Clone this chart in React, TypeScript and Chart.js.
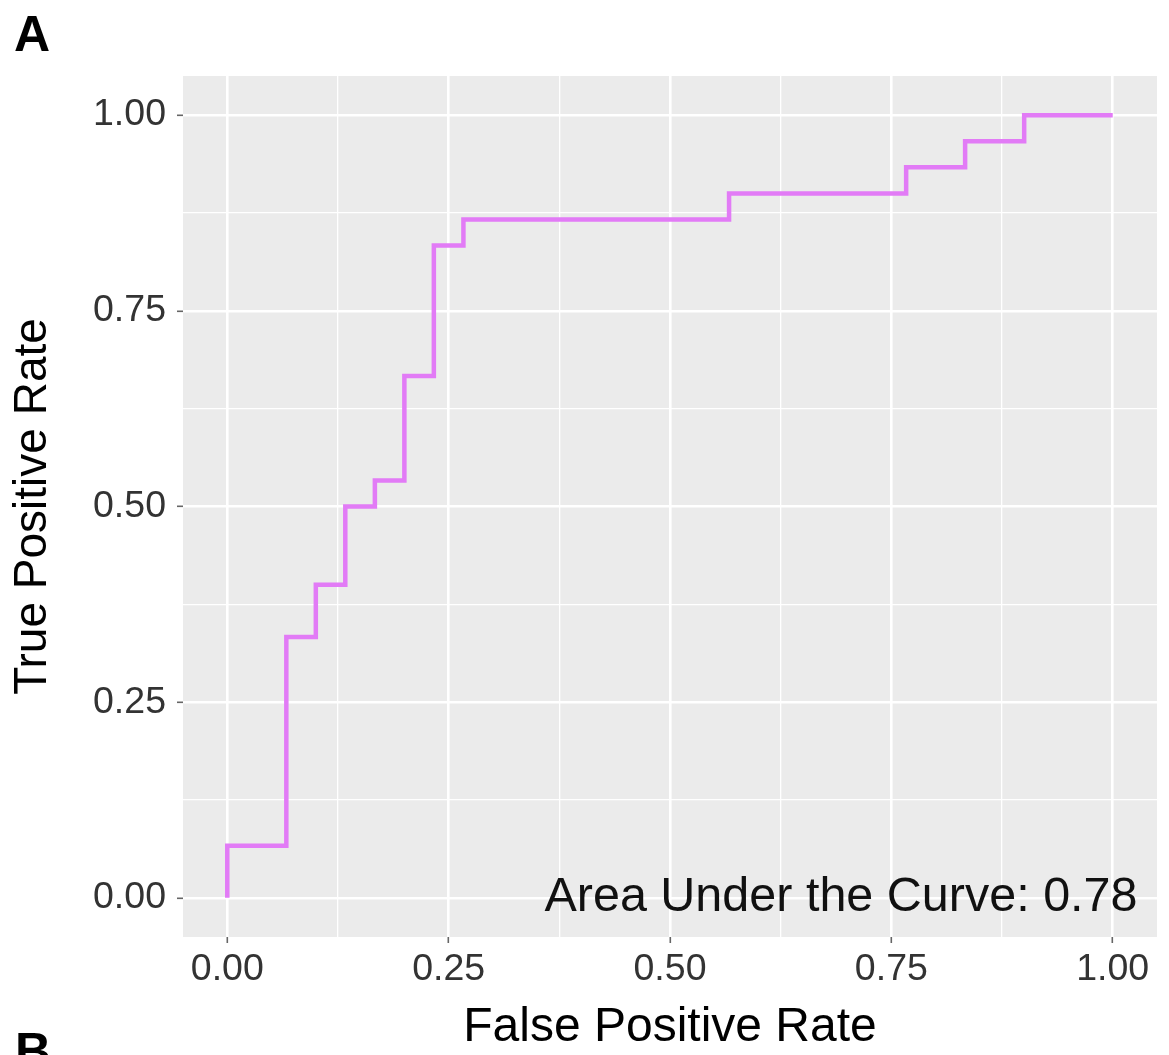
import React, { useEffect, useRef } from "react";
import { Chart, registerables } from "chart.js";

Chart.register(...registerables);

// ROC staircase corners (False Positive Rate, True Positive Rate)
const fpr = [0, 0, 0.0667, 0.0667, 0.1, 0.1, 0.1333, 0.1333, 0.1667, 0.1667, 0.2, 0.2, 0.2333, 0.2333, 0.2667, 0.2667, 0.5667, 0.5667, 0.7667, 0.7667, 0.8333, 0.8333, 0.9, 0.9, 1.0];
const tpr = [0, 0.0667, 0.0667, 0.3333, 0.3333, 0.4, 0.4, 0.5, 0.5, 0.5333, 0.5333, 0.6667, 0.6667, 0.8333, 0.8333, 0.8667, 0.8667, 0.9, 0.9, 0.9333, 0.9333, 0.9667, 0.9667, 1.0, 1.0];
const majorTicks = [0, 0.25, 0.5, 0.75, 1.0];
const gridValues = [0, 0.125, 0.25, 0.375, 0.5, 0.625, 0.75, 0.875, 1.0];
const aucValue = 0.78;
const xTitle = "False Positive Rate";
const yTitle = "True Positive Rate";
const panelLabels = ["A", "B"];

const FONT = "'Liberation Sans', Arial, Helvetica, sans-serif";
const isMajor = (v: number) => majorTicks.some((m) => Math.abs(m - v) < 1e-6);

const panelPlugin = {
  id: "panelDecor",
  beforeDraw(chart: any) {
    const { ctx, chartArea } = chart;
    ctx.save();
    ctx.fillStyle = "#EBEBEB";
    ctx.fillRect(chartArea.left, chartArea.top, chartArea.right - chartArea.left, chartArea.bottom - chartArea.top);
    ctx.restore();
  },
  afterDatasetsDraw(chart: any) {
    const { ctx, scales } = chart;
    ctx.save();
    ctx.fillStyle = "#111111";
    ctx.font = `48.5px ${FONT}`;
    ctx.textAlign = "right";
    ctx.textBaseline = "middle";
    ctx.fillText(`Area Under the Curve: ${aucValue.toFixed(2)}`, scales.x.getPixelForValue(1.028), scales.y.getPixelForValue(0));
    ctx.restore();
  },
  afterDraw(chart: any) {
    const { ctx } = chart;
    ctx.save();
    ctx.fillStyle = "#000000";
    ctx.font = `bold 50px ${FONT}`;
    ctx.textAlign = "left";
    ctx.textBaseline = "alphabetic";
    ctx.fillText(panelLabels[0], 14, 51);
    ctx.fillText(panelLabels[1], 15, 1068);
    ctx.restore();
  },
};

export default function App() {
  const canvasRef = useRef<HTMLCanvasElement | null>(null);

  useEffect(() => {
    if (!canvasRef.current) return;
    const points = fpr.map((x, i) => ({ x, y: tpr[i] }));
    const gridCommon = {
      color: "#FFFFFF",
      lineWidth: (c: any) => (c.tick && isMajor(c.tick.value) ? 2.6 : 1.3),
      drawTicks: true,
      tickLength: 6,
      tickColor: (c: any) => (c.tick && isMajor(c.tick.value) ? "#666666" : "rgba(0,0,0,0)"),
      tickWidth: 1.6,
    };
    const chart = new Chart(canvasRef.current, {
      type: "scatter",
      data: {
        datasets: [
          {
            data: points,
            showLine: true,
            borderColor: "#E27BF6",
            backgroundColor: "#E27BF6",
            borderWidth: 4.5,
            pointRadius: 0,
            borderJoinStyle: "miter",
            tension: 0,
          },
        ],
      },
      plugins: [panelPlugin],
      options: {
        animation: false,
        responsive: true,
        maintainAspectRatio: false,
        layout: { padding: { left: 0, right: 12, top: 76, bottom: 0 } },
        plugins: { legend: { display: false }, tooltip: { enabled: false } },
        scales: {
          x: {
            type: "linear",
            min: -0.05,
            max: 1.05,
            afterBuildTicks: (s: any) => {
              s.ticks = gridValues.map((v) => ({ value: v }));
            },
            afterFit: (s: any) => {
              s.height = 118;
            },
            border: { display: false },
            grid: gridCommon,
            ticks: {
              autoSkip: false,
              maxRotation: 0,
              padding: 4,
              color: "#333333",
              font: { family: FONT, size: 37.5 },
              callback: (v: any) => (isMajor(Number(v)) ? Number(v).toFixed(2) : ""),
            },
            title: {
              display: true,
              text: xTitle,
              color: "#000000",
              font: { family: FONT, size: 48, lineHeight: 1 },
              padding: { top: 0, bottom: 3 },
            },
          },
          y: {
            type: "linear",
            min: -0.05,
            max: 1.05,
            afterBuildTicks: (s: any) => {
              s.ticks = gridValues.map((v) => ({ value: v }));
            },
            afterFit: (s: any) => {
              s.width = 183;
            },
            border: { display: false },
            grid: gridCommon,
            ticks: {
              autoSkip: false,
              padding: 11,
              color: "#333333",
              font: { family: FONT, size: 37.5 },
              callback: (v: any) => (isMajor(Number(v)) ? Number(v).toFixed(2) : ""),
            },
            title: {
              display: true,
              text: yTitle,
              color: "#000000",
              font: { family: FONT, size: 46, lineHeight: 1 },
              padding: { top: 10, bottom: 0 },
            },
          },
        },
      },
    } as any);
    return () => chart.destroy();
  }, []);

  return (
    <div style={{ position: "absolute", left: 0, top: 0, width: 1169, height: 1055, background: "#FFFFFF" }}>
      <canvas ref={canvasRef} />
    </div>
  );
}
